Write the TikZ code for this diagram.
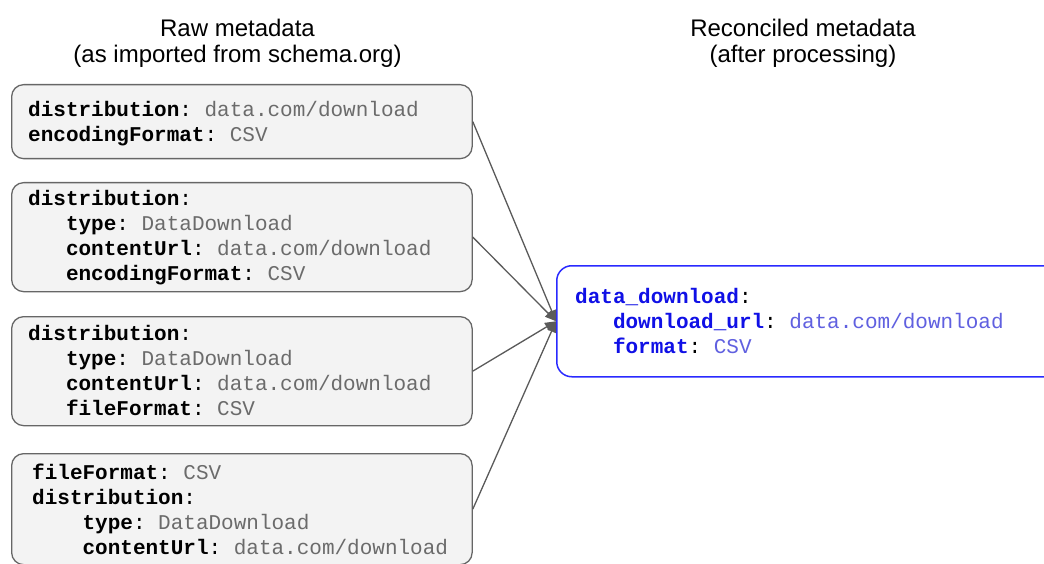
\documentclass[tikz,border=0pt]{standalone}
\usepackage{fontspec}
\setmainfont{Liberation Sans}
\setmonofont{Liberation Mono}
\usetikzlibrary{arrows.meta}
\definecolor{boxfill}{HTML}{F3F3F3}
\definecolor{boxdraw}{HTML}{666666}
\definecolor{valgray}{HTML}{6B6B6B}
\definecolor{keyblue}{HTML}{1010E6}
\definecolor{valblue}{HTML}{6060E0}
\definecolor{rbdraw}{HTML}{2A2AFF}
\definecolor{arrowgray}{HTML}{5A5A5A}
\newcommand{\ky}[1]{\textbf{#1}}
\newcommand{\vl}[1]{\textcolor{valgray}{#1}}
\newcommand{\bky}[1]{\textcolor{keyblue}{\textbf{#1}}}
\newcommand{\bvl}[1]{\textcolor{valblue}{#1}}
\frenchspacing
\begin{document}
\begin{tikzpicture}[x=1pt,y=-1pt,
  rawbox/.style={rectangle, draw=boxdraw, fill=boxfill, line width=1.3pt,
    rounded corners=12pt, minimum width=460.5pt, inner sep=0pt},
  recbox/.style={rectangle, draw=rbdraw, fill=white, line width=1.5pt,
    rounded corners=15pt, minimum width=530pt, inner sep=0pt},
  codetxt/.style={inner sep=0pt, align=left, anchor=base west,
    font=\ttfamily\fontsize{21}{25}\selectfont},
  title/.style={inner sep=0pt, align=center, anchor=base,
    font=\fontsize{24}{26}\selectfont},
  conn/.style={draw=arrowgray, line width=1.3pt,
    -{Triangle[length=11pt,width=9pt]}}]
\useasboundingbox (0,0) rectangle (1044,564);
\clip (0,0) rectangle (1044,564);

% base anchor of a multi-line node = baseline of its last line
\node[title] (h1) at (237.5,63) {Raw metadata\\(as imported from schema.org)};
\node[title] (h2) at (803,63) {Reconciled metadata\\(after processing)};

\node[rawbox, minimum height=74pt, anchor=north west] (b1) at (11,84) {};
\node[rawbox, minimum height=109pt, anchor=north west] (b2) at (11,182) {};
\node[rawbox, minimum height=109pt, anchor=north west] (b3) at (11,316) {};
\node[rawbox, minimum height=111pt, anchor=north west] (b4) at (11,453) {};
\node[recbox, minimum height=111pt, anchor=north west] (r) at (556,265) {};

\node[codetxt] (c1) at (28,141.5) {\ky{distribution}: \vl{data.com/download}\\
\ky{encodingFormat}: \vl{CSV}};
\node[codetxt] (c2) at (28,280) {\ky{distribution}:\\
\phantom{xxx}\ky{type}: \vl{DataDownload}\\
\phantom{xxx}\ky{contentUrl}: \vl{data.com/download}\\
\phantom{xxx}\ky{encodingFormat}: \vl{CSV}};
\node[codetxt] (c3) at (28,415) {\ky{distribution}:\\
\phantom{xxx}\ky{type}: \vl{DataDownload}\\
\phantom{xxx}\ky{contentUrl}: \vl{data.com/download}\\
\phantom{xxx}\ky{fileFormat}: \vl{CSV}};
\node[codetxt] (c4) at (32,554) {\ky{fileFormat}: \vl{CSV}\\
\ky{distribution}:\\
\phantom{xxxx}\ky{type}: \vl{DataDownload}\\
\phantom{xxxx}\ky{contentUrl}: \vl{data.com/download}};
\node[codetxt] (c5) at (575,353.5) {\bky{data\_download}:\\
\phantom{xxx}\bky{download\_url}: \bvl{data.com/download}\\
\phantom{xxx}\bky{format}: \bvl{CSV}};

\draw[conn] (b1.east) -- (r.west);
\draw[conn] (b2.east) -- (r.west);
\draw[conn] (b3.east) -- (r.west);
\draw[conn] (b4.east) -- (r.west);
\end{tikzpicture}
\end{document}
